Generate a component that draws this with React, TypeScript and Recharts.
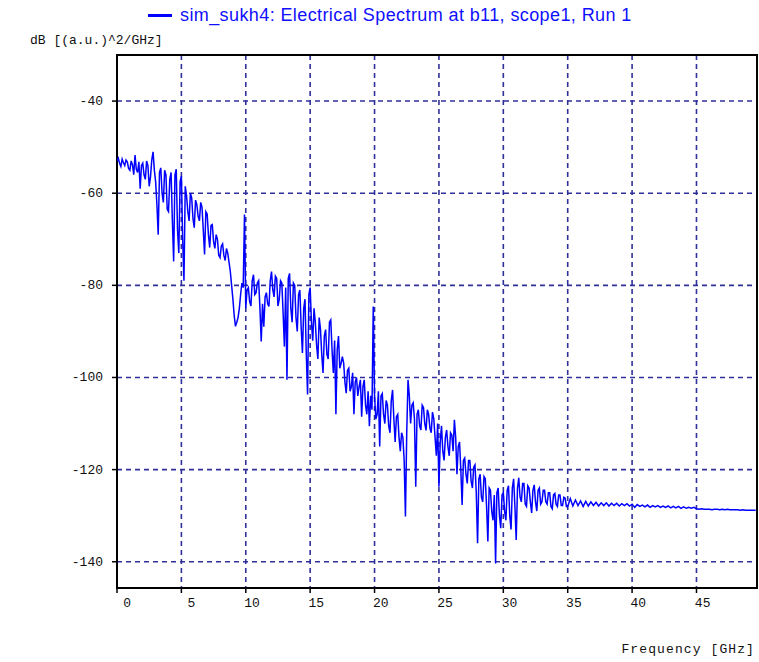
import React from "react";
import {
  CartesianGrid,
  Label,
  Line,
  LineChart,
  ReferenceArea,
  XAxis,
  YAxis,
} from "recharts";

const DENSE_STEP_GHZ = 0.1;
const denseDb = [
  -53.0, -52.4, -53.5, -54.2, -52.6, -53.4, -54.0, -52.8, -53.2, -54.6, -55.0, -53.0, -53.8, -56.0, -51.7, -54.8, -55.5, -53.2, -59.0, -54.0,
  -53.5, -56.0, -57.0, -53.0, -54.0, -58.5, -56.5, -52.8, -51.0, -55.0, -57.5, -62.5, -69.0, -55.5, -54.5, -60.0, -62.0, -55.0, -56.0, -63.5,
  -64.0, -57.0, -55.5, -66.0, -74.8, -56.0, -54.8, -68.0, -73.0, -57.5, -56.3, -70.0, -79.0, -58.5, -60.5, -64.0, -66.0, -60.0, -61.0, -65.5,
  -67.5, -61.5, -62.5, -65.0, -66.0, -62.0, -63.0, -68.0, -73.3, -64.0, -64.5, -69.0, -71.8, -67.0, -66.8, -70.5, -72.0, -69.0, -70.0, -73.5,
  -74.0, -71.5, -71.0, -73.5, -74.6, -72.0, -73.0, -75.0, -77.0, -80.0, -83.0, -86.5, -88.9, -88.0, -87.0, -85.0, -82.0, -79.5, -80.5, -64.6,
  -84.9, -81.0, -80.5, -83.5, -84.5, -79.0, -77.7, -82.0, -81.6, -79.5, -79.0, -85.0, -92.2, -84.0, -89.0, -82.5, -81.6, -84.0, -84.6, -79.0,
  -77.0, -81.0, -82.5, -78.0, -78.5, -84.5, -83.0, -79.0, -79.5, -86.0, -93.3, -80.5, -100.5, -78.5, -77.4, -85.0, -88.0, -79.5, -80.0, -87.0,
  -90.0, -82.0, -81.0, -89.0, -94.7, -85.0, -83.0, -95.0, -103.7, -82.0, -80.5, -88.0, -92.0, -85.0, -88.0, -93.0, -96.0, -87.0, -89.5, -95.0,
  -99.0, -91.0, -89.6, -95.0, -96.0, -88.0, -87.5, -94.0, -99.0, -92.0, -108.0, -94.0, -91.0, -98.0, -97.0, -95.5, -96.8, -101.0, -103.4, -98.5,
  -98.0, -103.0, -102.0, -99.0, -108.0, -101.0, -100.0, -104.0, -102.0, -100.5, -108.5, -102.0, -100.5, -106.0, -108.0, -103.0, -110.6, -104.0, -107.0, -84.6,
  -104.0, -109.0, -108.0, -103.0, -115.0, -104.0, -103.5, -108.0, -110.0, -105.0, -106.0, -110.5, -112.0, -105.0, -102.7, -109.0, -114.0, -108.5, -108.0, -113.0,
  -116.0, -112.0, -113.0, -118.0, -130.2, -112.0, -100.5, -104.0, -110.0, -106.0, -105.5, -109.0, -123.7, -108.0, -107.0, -110.5, -111.4, -106.0, -106.5, -110.0,
  -111.5, -107.0, -108.0, -111.0, -112.0, -107.5, -109.0, -113.0, -117.0, -110.0, -123.7, -114.0, -110.5, -116.0, -118.0, -113.0, -111.4, -115.0, -117.0, -112.0,
  -112.5, -116.0, -109.2, -113.0, -121.0, -115.0, -114.0, -120.0, -127.7, -118.0, -117.5, -121.0, -123.0, -118.0, -118.0, -122.5, -124.0, -119.5, -119.0, -125.0,
  -136.0, -122.0, -121.0, -126.0, -127.0, -121.5, -122.0, -128.0, -135.6, -124.0, -124.5, -129.0, -131.0, -125.5, -140.4, -125.0, -124.0, -130.0, -132.7, -125.5,
  -125.0, -129.0, -131.0, -124.5, -123.5, -130.0, -133.0, -124.0, -122.0, -128.0, -135.3, -124.0, -121.8, -126.0, -127.0, -123.0, -123.0, -127.5, -128.0, -123.5,
  -124.0, -127.0, -129.4, -124.5, -123.3, -127.0, -129.0, -124.5, -124.0, -127.5, -127.0, -124.5, -124.5, -127.0, -127.5, -125.0, -125.0, -128.0, -128.5, -125.5,
  -125.2, -127.5, -128.0, -125.5, -125.5, -127.8, -127.8, -126.0, -126.2, -128.0,
];

// 35 – 49.6 GHz tail, sampled every 0.2 GHz
const TAIL_START_GHZ = 35;
const TAIL_STEP_GHZ = 0.2;
const tailDb = [
  -128.0, -126.3, -127.9, -126.6, -127.8,
  -126.8, -128.0, -126.9, -127.9, -127.0, -127.8, -127.1, -127.9, -127.2, -127.8,
  -127.2, -127.9, -127.3, -127.8, -127.3, -127.9, -127.4, -127.8, -127.4, -127.9,
  -127.5, -128.2, -127.6, -128.0, -127.7, -128.1, -127.7, -128.2, -127.8, -128.1,
  -127.8, -128.2, -127.9, -128.2, -127.9, -128.3, -128.0, -128.3, -128.0, -128.4,
  -128.1, -128.4, -128.2, -128.4, -128.2, -128.5, -128.6, -128.5, -128.6, -128.6,
  -128.6, -128.7, -128.6, -128.6, -128.7, -128.6, -128.7, -128.6, -128.7, -128.7,
  -128.7, -128.7, -128.8, -128.7, -128.8, -128.8, -128.8, -128.8, -128.8,
];

const freqTicks = [0, 5, 10, 15, 20, 25, 30, 35, 40, 45];
const dbTicks = [-140, -120, -100, -80, -60, -40];
const freqDomain = [0, 49.7];
const dbDomain = [-145.7, -30];

const seriesName = "sim_sukh4: Electrical Spectrum at b11, scope1, Run 1";
const xTitle = "Frequency [GHz]";
const yTitle = "dB [(a.u.)^2/GHz]";

const data = [
  ...denseDb.map((db, i) => ({ freq: Math.round(i * DENSE_STEP_GHZ * 100) / 100, db })),
  ...tailDb.map((db, i) => ({ freq: Math.round((TAIL_START_GHZ + i * TAIL_STEP_GHZ) * 100) / 100, db })),
];

const monoFont = "'Liberation Mono', 'DejaVu Sans Mono', monospace";

function XTick({ x, y, payload }: any) {
  return (
    <text x={x + 14} y={y + 12} textAnchor="end" fontFamily={monoFont} fontSize={13} fill="#111">
      {payload.value}
    </text>
  );
}

function YTick({ x, y, payload }: any) {
  return (
    <text x={x - 7} y={y + 4} textAnchor="end" fontFamily={monoFont} fontSize={13} fill="#111">
      {payload.value}
    </text>
  );
}

export default function App() {
  return (
    <div style={{ position: "absolute", left: 0, top: 0, width: 759, height: 662, background: "#fff" }}>
      <div
        style={{
          position: "absolute",
          top: 5,
          left: 148,
          display: "flex",
          alignItems: "center",
          whiteSpace: "nowrap",
        }}
      >
        <span style={{ display: "inline-block", width: 24, height: 3, background: "#0000ff", marginRight: 8 }} />
        <span
          style={{
            fontFamily: "'Liberation Sans', Arial, sans-serif",
            fontSize: 18,
            letterSpacing: 0.4,
            color: "#1010ff",
          }}
        >
          {seriesName}
        </span>
      </div>
      <LineChart width={759} height={662} data={data} margin={{ top: 55, right: 2, bottom: 0, left: 0 }}>
        <CartesianGrid stroke="#30309a" strokeWidth={1.6} strokeDasharray="5 4" />
        <XAxis
          dataKey="freq"
          type="number"
          domain={freqDomain}
          ticks={freqTicks}
          allowDataOverflow
          height={74}
          axisLine={false}
          tickSize={5}
          tickLine={{ stroke: "#000", strokeWidth: 1.5 }}
          tick={<XTick />}
        >
          <Label
            content={({ viewBox }: any) => (
              <text
                x={viewBox.x + viewBox.width - 2}
                y={viewBox.y + 65}
                textAnchor="end"
                fontFamily={monoFont}
                fontSize={13}
                letterSpacing={1.1}
                fill="#111"
              >
                {xTitle}
              </text>
            )}
          />
        </XAxis>
        <YAxis
          type="number"
          domain={dbDomain}
          ticks={dbTicks}
          allowDataOverflow
          width={117}
          axisLine={false}
          tickSize={5}
          tickLine={{ stroke: "#000", strokeWidth: 1.5 }}
          tick={<YTick />}
        >
          <Label
            content={({ viewBox }: any) => (
              <text x={30} y={viewBox.y - 11} fontFamily={monoFont} fontSize={13} fill="#111">
                {yTitle}
              </text>
            )}
          />
        </YAxis>
        <ReferenceArea
          x1={freqDomain[0]}
          x2={freqDomain[1]}
          y1={dbDomain[0]}
          y2={dbDomain[1]}
          fill="none"
          stroke="#000"
          strokeWidth={2}
          ifOverflow="visible"
        />
        <Line
          type="linear"
          dataKey="db"
          name={seriesName}
          stroke="#0000ff"
          strokeWidth={1.5}
          dot={false}
          isAnimationActive={false}
        />
      </LineChart>
    </div>
  );
}
